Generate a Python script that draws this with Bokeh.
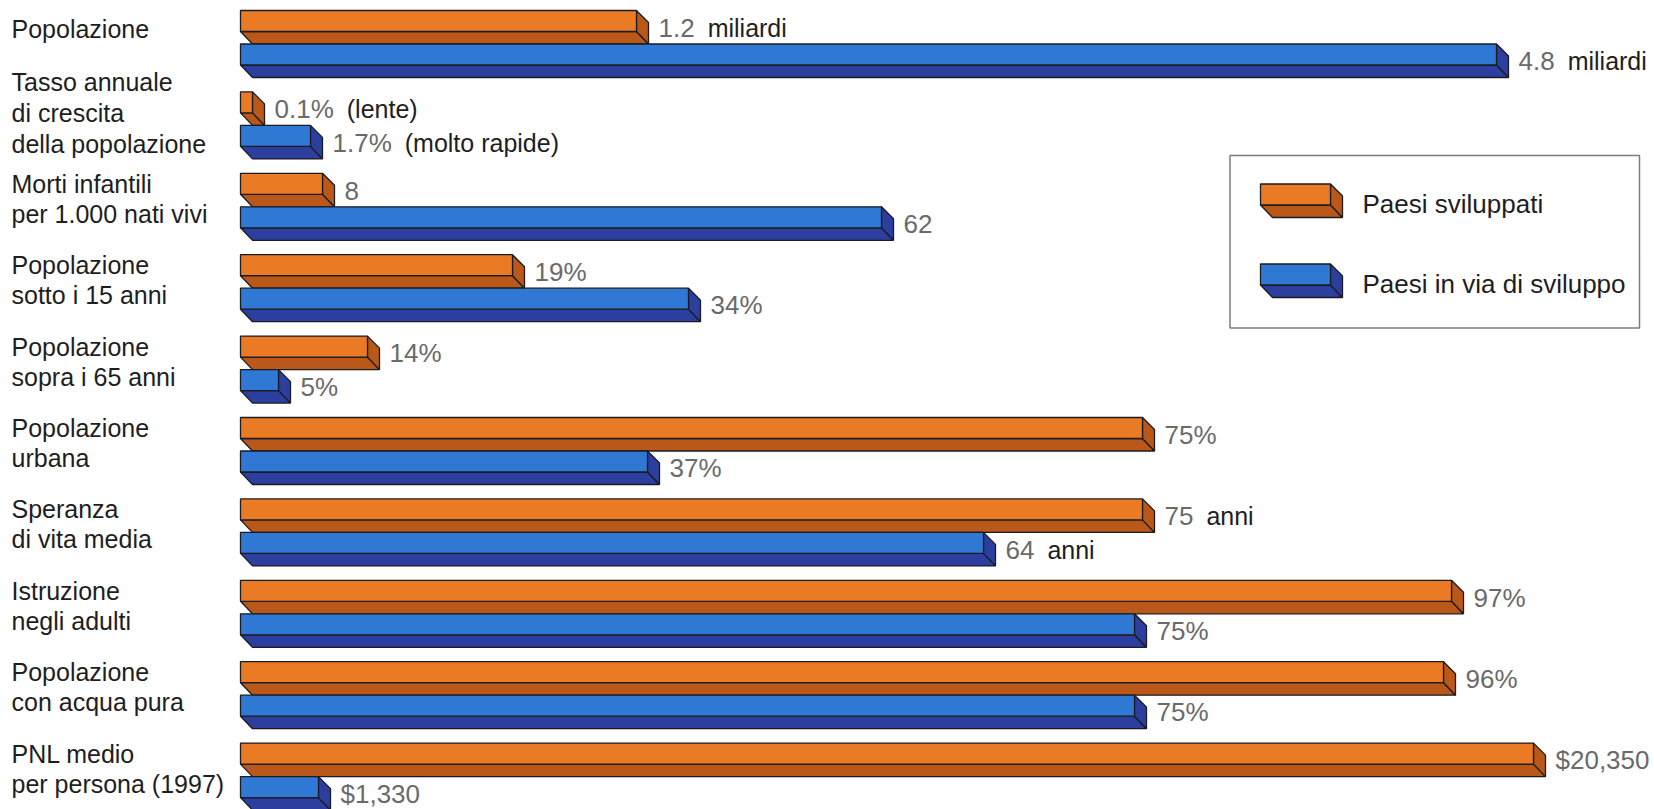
from bokeh.plotting import figure
from bokeh.models import Range1d
from bokeh.core.properties import value
from bokeh.embed import file_html
from bokeh.resources import INLINE

# ---------------- data ----------------
categorie = [
    "Popolazione",
    "Tasso annuale\ndi crescita\ndella popolazione",
    "Morti infantili\nper 1.000 nati vivi",
    "Popolazione\nsotto i 15 anni",
    "Popolazione\nsopra i 65 anni",
    "Popolazione\nurbana",
    "Speranza\ndi vita media",
    "Istruzione\nnegli adulti",
    "Popolazione\ncon acqua pura",
    "PNL medio\nper persona (1997)",
]
serie = ["Paesi sviluppati", "Paesi in via di sviluppo"]

# value labels as printed
numeri_sviluppati = ["1.2", "0.1%", "8", "19%", "14%", "75%", "75", "97%", "96%", "$20,350"]
unita_sviluppati = ["miliardi", "(lente)", "", "", "", "", "anni", "", "", ""]
numeri_in_via = ["4.8", "1.7%", "62", "34%", "5%", "37%", "64", "75%", "75%", "$1,330"]
unita_in_via = ["miliardi", "(molto rapide)", "", "", "", "", "anni", "", "", ""]

# bar lengths as drawn in the original illustration (each row has its own scale)
lunghezza_sviluppati = [396, 12, 82, 272, 127, 902, 902, 1211, 1203, 1293]
lunghezza_in_via = [1256, 70, 641, 448, 38, 407, 743, 894, 894, 78]

# ---------------- style / layout ----------------
W, H = 1654, 809
X_START = 240          # pixel where bars begin
TOP0 = 10              # top of first group
PITCH = 81.4           # group pitch
BAR_STEP = 33.5        # offset between the two bars of a group
FACE = 21.0            # height of front face
BAR_H = 33.5           # total bar height (face + bottom band)
D = 12.0               # 3-D depth

OR_FACE, OR_DARK = "#EA7B24", "#BA5819"
BL_FACE, BL_DARK = "#2F78D4", "#2C3F9F"
OUTLINE = "#1b1b22"
GRAY = "#6a6a6a"
BLACK = "#1e1e1e"
FONT = value("Liberation Sans")

AW = {"0": .556, "1": .556, "2": .556, "3": .556, "4": .556, "5": .556, "6": .556,
      "7": .556, "8": .556, "9": .556, ".": .278, ",": .278, "%": .889, "$": .556}


def text_w(s, size):
    return sum(AW.get(c, .556) for c in s) * size


p = figure(width=W, height=H, x_range=Range1d(-X_START, W - X_START),
           y_range=Range1d(H, 0), output_backend="svg", toolbar_location=None,
           x_axis_location=None, y_axis_location=None, min_border=0)
p.grid.visible = False
p.outline_line_color = None
p.background_fill_color = "white"
p.border_fill_color = "white"


def draw_bars(x0, lengths, tops, face, dark):
    left = [x0] * len(lengths)
    right = [x0 + L for L in lengths]
    bands_x, bands_y, sides_x, sides_y = [], [], [], []
    for L, t in zip(lengths, tops):
        x1 = x0 + L
        bands_x.append([x0, x1, x1 + D, x0 + D])
        bands_y.append([t + FACE, t + FACE, t + BAR_H, t + BAR_H])
        sides_x.append([x1, x1 + D, x1 + D, x1])
        sides_y.append([t, t + D, t + BAR_H, t + FACE])
    p.patches(bands_x, bands_y, fill_color=dark, line_color=OUTLINE, line_width=1.3)
    p.patches(sides_x, sides_y, fill_color=dark, line_color=OUTLINE, line_width=1.3)
    p.quad(left=left, right=right, top=tops, bottom=[t + FACE for t in tops],
           fill_color=face, line_color=OUTLINE, line_width=1.3)


n = len(categorie)
tops_or = [TOP0 + i * PITCH for i in range(n)]
tops_bl = [t + BAR_STEP for t in tops_or]

draw_bars(0, lunghezza_sviluppati, tops_or, OR_FACE, OR_DARK)
draw_bars(0, lunghezza_in_via, tops_bl, BL_FACE, BL_DARK)

# value labels
NUM_SIZE, WORD_SIZE = 26, 25
for lengths, tops, nums, units in [
    (lunghezza_sviluppati, tops_or, numeri_sviluppati, unita_sviluppati),
    (lunghezza_in_via, tops_bl, numeri_in_via, unita_in_via),
]:
    nx, ny, ux, uy, ut = [], [], [], [], []
    for L, t, num, u in zip(lengths, tops, nums, units):
        x = L + D + 10
        y = t + BAR_H / 2 + 0.5
        nx.append(x)
        ny.append(y)
        if u:
            ux.append(x + text_w(num, NUM_SIZE) + 13)
            uy.append(y)
            ut.append(u)
    p.text(x=nx, y=ny, text=nums, text_font=FONT, text_font_size=f"{NUM_SIZE}px",
           text_color=GRAY, text_baseline="middle", text_align="left")
    p.text(x=ux, y=uy, text=ut, text_font=FONT, text_font_size=f"{WORD_SIZE}px",
           text_color=BLACK, text_baseline="middle", text_align="left")

# category labels
lx, ly, lt = [], [], []
for i, c in enumerate(categorie):
    lines = c.split("\n")
    k = len(lines)
    if k == 1:
        ys = [tops_or[i] + BAR_H / 2 + 2]
    elif k == 2:
        mid = tops_or[i] + (BAR_STEP + BAR_H) / 2 - 8
        ys = [mid + (j - 0.5) * 30 for j in range(k)]
    else:
        mid = tops_or[i] + (BAR_STEP + BAR_H) / 2 - 12
        ys = [mid + (j - 1) * 31 for j in range(k)]
    for line, y in zip(lines, ys):
        lx.append(11 - X_START)
        ly.append(y)
        lt.append(line)
p.text(x=lx, y=ly, text=lt, text_font=FONT, text_font_size="25px",
       text_color=BLACK, text_baseline="middle", text_align="left")

# legend (drawn by hand to keep the 3-D look)
LG_L, LG_R, LG_T, LG_B = 1229.5 - X_START, 1639 - X_START, 155, 327.5
p.quad(left=[LG_L], right=[LG_R], top=[LG_T], bottom=[LG_B], fill_color=None,
       line_color="#7d7d7d", line_width=1.5)
icon_x0 = 1260 - X_START
icon_len = [70]
draw_bars(icon_x0, icon_len, [183.5], OR_FACE, OR_DARK)
draw_bars(icon_x0, icon_len, [263.5], BL_FACE, BL_DARK)
p.text(x=[1362 - X_START] * 2, y=[203, 283], text=serie, text_font=FONT,
       text_font_size="26px", text_color=BLACK, text_baseline="middle",
       text_align="left")

open("out.html", "w").write(file_html(p, INLINE))
